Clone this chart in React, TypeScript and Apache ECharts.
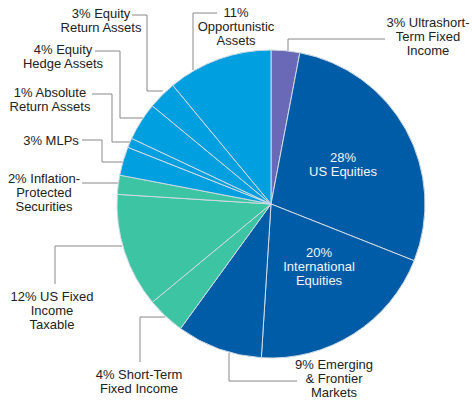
import React, { useEffect, useRef } from "react";
import * as echarts from "echarts";

const categories = [
  "3% Ultrashort-\nTerm Fixed\nIncome",
  "28%\nUS Equities",
  "20%\nInternational\nEquities",
  "9% Emerging\n& Frontier\nMarkets",
  "4% Short-Term\nFixed Income",
  "12% US Fixed\nIncome\nTaxable",
  "2% Inflation-\nProtected\nSecurities",
  "3% MLPs",
  "1% Absolute\nReturn Assets",
  "4% Equity\nHedge Assets",
  "3% Equity\nReturn Assets",
  "11%\nOpportunistic\nAssets",
];
const values = [3, 28, 20, 9, 4, 12, 2, 3, 1, 4, 3, 11];

const PURPLE = "#6A69B8";
const DARK = "#005CA7";
const TEAL = "#3DC4A2";
const LIGHT = "#00A0E0";
const sliceColors = [PURPLE, DARK, DARK, DARK, TEAL, TEAL, TEAL, LIGHT, LIGHT, LIGHT, LIGHT, LIGHT];
const insideLabels = [false, true, true, false, false, false, false, false, false, false, false, false];

// label layout annotations: text centre and leader line points
const labelPos: { x: number; y: number; line?: number[][] }[] = [
  { x: 428, y: 36, line: [[288, 51], [288, 39], [385, 39]] },
  { x: 343, y: 164 },
  { x: 319, y: 266 },
  { x: 334, y: 378, line: [[229, 353], [229, 381], [297, 381]] },
  { x: 139, y: 381, line: [[165, 317], [140, 317], [140, 362]] },
  { x: 52, y: 310, line: [[122, 246], [55, 246], [55, 284]] },
  { x: 44, y: 192, line: [[118, 183], [100, 183], [82, 183]] },
  { x: 51, y: 140, line: [[123, 162], [102, 162], [102, 140], [82, 140]] },
  { x: 50, y: 99, line: [[130, 142], [112, 142], [112, 94], [92, 94]] },
  { x: 63, y: 56, line: [[147, 118], [120, 118], [120, 51], [95, 51]] },
  { x: 101, y: 20, line: [[163, 91], [147, 91], [147, 15], [132, 15]] },
  { x: 236, y: 26, line: [[193, 70], [193, 13], [217, 13]] },
];

export default function App() {
  const ref = useRef<HTMLDivElement>(null);
  useEffect(() => {
    document.body.style.margin = "0";
    const chart = echarts.init(ref.current!, null, { renderer: "svg" });
    chart.setOption({
      animation: false,
      backgroundColor: "#ffffff",
      series: [
        {
          type: "pie",
          center: [271, 204],
          radius: [0, 154],
          startAngle: 90,
          clockwise: true,
          avoidLabelOverlap: false,
          itemStyle: { borderColor: "#cfdbe4", borderWidth: 1 },
          label: {
            show: true,
            position: "outside",
            fontFamily: "Liberation Sans, Arial, sans-serif",
            fontSize: 13,
            lineHeight: 14,
            color: "#222222",
            align: "center",
          },
          labelLine: {
            show: true,
            smooth: false,
            length: 10,
            length2: 10,
            lineStyle: { color: "#888888", width: 1 },
          },
          labelLayout: (params: any) => {
            const p = labelPos[params.dataIndex];
            const out: any = { x: p.x, y: p.y, align: "center", verticalAlign: "middle" };
            if (p.line) out.labelLinePoints = p.line.map((pt) => [pt[0], pt[1]]);
            return out;
          },
          data: values.map((v, i) => ({
            value: v,
            name: categories[i],
            itemStyle: { color: sliceColors[i] },
            label: insideLabels[i]
              ? { position: "inside", color: "#f2f5f8" }
              : undefined,
            labelLine: insideLabels[i] ? { show: false } : undefined,
          })),
        },
      ],
    });
    return () => chart.dispose();
  }, []);
  return <div ref={ref} style={{ width: 472, height: 403 }} />;
}
